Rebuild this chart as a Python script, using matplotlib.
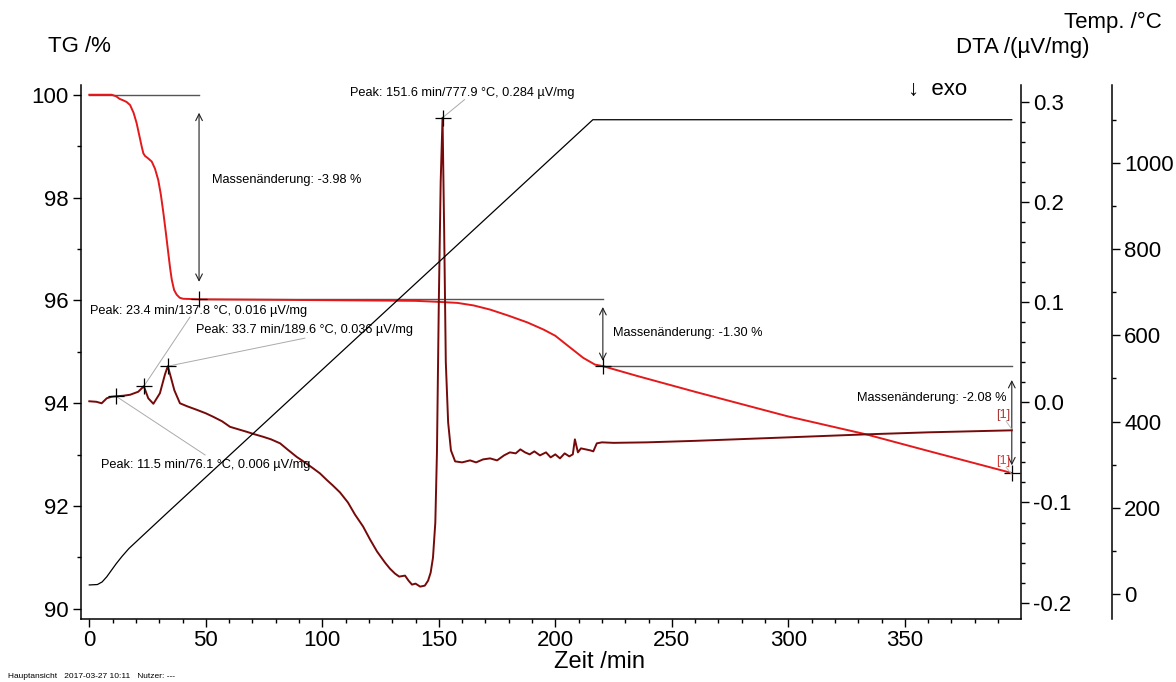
import matplotlib
matplotlib.use('Agg')
import matplotlib.pyplot as plt
from matplotlib.ticker import MultipleLocator

plt.rcParams['font.family'] = ['Liberation Sans', 'DejaVu Sans']

# ---------------- data ----------------
tg_time = [0, 9.6, 11.5, 13, 14.6, 16, 17.5, 19, 20.3, 21.5, 22.5, 23.2, 23.9, 25.3, 26.8, 28.2, 29.6,
           30.7, 31.8, 32.9, 33.9, 34.7, 35.4, 36.4, 37.5, 38.8, 40.3, 47.1,
           80, 110, 140, 150, 158, 165, 172, 180, 188, 195, 200, 205, 212, 217, 220.4,
           235, 260, 300, 333.6, 360, 395.9]
tg_vals = [100.0, 100.0, 99.97, 99.92, 99.89, 99.86, 99.80, 99.65, 99.45, 99.2, 98.99, 98.86, 98.81,
           98.76, 98.70, 98.56, 98.34, 98.06, 97.70, 97.30, 96.92, 96.62, 96.40, 96.20, 96.11, 96.05,
           96.03, 96.02,
           96.01, 96.0, 95.99, 95.97, 95.95, 95.90, 95.82, 95.70, 95.57, 95.43, 95.31, 95.13, 94.88, 94.75,
           94.72,
           94.53, 94.22, 93.74, 93.39, 93.07, 92.64]

dta_time = [0, 3, 5.3, 7.5, 9.5, 11.5, 14.5, 17.5, 21, 23.4, 25.3, 27.5, 30.3, 32.5, 33.7, 35, 36.5, 38.9,
            42, 46.1, 50, 53.2, 57, 60.4, 64, 67.6, 71, 74.7, 78, 81.9, 85, 89, 92.5, 96.1, 99, 101.9,
            104.5, 107.6, 111, 114, 117.5, 120.5, 123.5, 126.9, 129, 131.2, 133, 135.5, 137, 138.5, 140,
            142, 144, 145.4, 146.5, 147.5, 148.5, 149.2, 150.0, 150.8, 151.6, 152.3, 153.0, 154.0, 155.2,
            157, 160, 163.4, 166, 169, 172, 175, 178, 180.5, 183, 185, 187, 189, 191, 193.4, 196, 198,
            200, 202, 204, 206, 207.5, 208.4, 209.7, 211, 213, 215, 216.3, 217.8, 220, 225, 239.2, 260,
            300, 333.6, 360, 395.9]
dta_vals = [0.001, 0.0005, -0.001, 0.004, 0.0055, 0.006, 0.0065, 0.0075, 0.0105, 0.016, 0.004, -0.0015,
            0.009, 0.028, 0.036, 0.025, 0.012, -0.001,
            -0.004, -0.0075, -0.011, -0.0145, -0.019, -0.0245, -0.027, -0.0295, -0.032, -0.0345, -0.037,
            -0.041, -0.047, -0.0545, -0.060, -0.066, -0.071, -0.0775,
            -0.083, -0.090, -0.100, -0.112, -0.124, -0.137, -0.149, -0.160, -0.166, -0.171, -0.174, -0.173,
            -0.178, -0.182, -0.181,
            -0.184, -0.183, -0.178, -0.170, -0.155, -0.12, -0.05, 0.10, 0.22, 0.284, 0.17, 0.04, -0.02, -0.048,
            -0.059, -0.060, -0.058, -0.060, -0.057, -0.056, -0.058, -0.053, -0.050, -0.051, -0.047, -0.050,
            -0.052, -0.049, -0.053, -0.050, -0.055,
            -0.052, -0.056, -0.051, -0.054, -0.052, -0.037, -0.050, -0.046, -0.047, -0.048, -0.049, -0.041,
            -0.040, -0.0405, -0.040, -0.0385,
            -0.035, -0.032, -0.030, -0.028]

temp_time = [0, 3.5, 5.5, 7.5, 9.5, 11.5, 14, 17, 23.4, 33.7, 151.6, 216.1, 395.9]
temp_vals = [21, 22, 28, 40, 55, 70, 87, 105.5, 137.8, 189.6, 777.9, 1100, 1100]

peak_time = [11.5, 23.4, 33.7, 151.6]
peak_dta = [0.006, 0.016, 0.036, 0.284]
peak_labels = ["Peak: 11.5 min/76.1 °C, 0.006 µV/mg",
               "Peak: 23.4 min/137.8 °C, 0.016 µV/mg",
               "Peak: 33.7 min/189.6 °C, 0.036 µV/mg",
               "Peak: 151.6 min/777.9 °C, 0.284 µV/mg"]

step_time = [0, 47.1, 220.4, 395.9]
step_tg = [100.0, 96.02, 94.72, 92.64]
step_labels = ["Massenänderung: -3.98 %", "Massenänderung: -1.30 %", "Massenänderung: -2.08 %"]

# ---------------- figure ----------------
TG_C = '#e3191b'
DTA_C = '#760a0a'
ANN_FS = 9.2

fig = plt.figure(figsize=(11.76, 6.82), dpi=100)
ax = fig.add_axes([0.0686, 0.0924, 0.7993, 0.7830])
ax2 = ax.twinx()
ax3 = ax.twinx()

ax.set_xlim(-3.7, 399.7)
ax.set_ylim(89.80, 100.19)
ax2.set_ylim(-0.2163, 0.3167)
ax3.set_ylim(-57.9, 1180.6)

for a in (ax, ax2, ax3):
    a.spines['top'].set_visible(False)
ax.spines['right'].set_visible(False)
for a in (ax2, ax3):
    a.spines['left'].set_visible(False)
    a.spines['bottom'].set_visible(False)
ax3.spines['right'].set_position(('axes', 1.0968))
for a in (ax, ax2, ax3):
    for s in a.spines.values():
        s.set_linewidth(1.1)

# ticks
ax.xaxis.set_major_locator(MultipleLocator(50))
ax.xaxis.set_minor_locator(MultipleLocator(10))
ax.yaxis.set_major_locator(MultipleLocator(2))
ax.yaxis.set_minor_locator(MultipleLocator(1))
ax2.yaxis.set_major_locator(MultipleLocator(0.1))
ax2.yaxis.set_minor_locator(MultipleLocator(0.02))
ax3.yaxis.set_major_locator(MultipleLocator(200))
ax3.yaxis.set_minor_locator(MultipleLocator(100))
ax.tick_params(axis='both', which='major', labelsize=16, length=6, width=1, direction='out', pad=3)
ax.tick_params(axis='both', which='minor', length=3, width=1, direction='out')
ax.tick_params(axis='x', pad=2)
for a in (ax2, ax3):
    a.tick_params(axis='y', which='major', labelsize=16, length=6, width=1, direction='out', pad=3)
    a.tick_params(axis='y', which='minor', length=3, width=1, direction='out')
ax2.yaxis.set_major_formatter(plt.FuncFormatter(lambda v, p: f"{v:.1f}".replace('-0.0', '0.0')))

# curves
ax.plot(tg_time, tg_vals, color=TG_C, lw=1.4, zorder=3)
ax2.plot(dta_time, dta_vals, color=DTA_C, lw=1.4, zorder=3)
ax3.plot(temp_time, temp_vals, color='black', lw=0.9, zorder=2)

# mass-change evaluation
ax.plot([step_time[0], step_time[1]], [step_tg[0], step_tg[0]], color='#555555', lw=1.0)
ax.plot([step_time[1], step_time[2]], [step_tg[1], step_tg[1]], color='#555555', lw=1.0)
ax.plot([step_time[2], step_time[3]], [step_tg[2], step_tg[2]], color='#555555', lw=1.0)
arrow_kw = dict(arrowstyle='<->', color='#222222', lw=0.8, mutation_scale=12, shrinkA=0, shrinkB=0)
ax.annotate('', xy=(step_time[1], 96.36), xytext=(step_time[1], 99.65), arrowprops=arrow_kw)
ax.annotate('', xy=(step_time[2], 94.82), xytext=(step_time[2], 95.87), arrowprops=arrow_kw)
ax.annotate('', xy=(step_time[3], 92.79), xytext=(step_time[3], 94.45), arrowprops=arrow_kw)
ax.text(52.8, 98.34, step_labels[0], fontsize=ANN_FS, va='center', ha='left')
ax.text(224.8, 95.37, step_labels[1], fontsize=ANN_FS, va='center', ha='left')
ax.text(393.5, 94.10, step_labels[2], fontsize=ANN_FS, va='center', ha='right')
ax.plot(step_time[1:], step_tg[1:], '+', color='black', ms=12, mew=0.9, zorder=4)

# peaks
ax2.plot(peak_time, peak_dta, '+', color='black', ms=12, mew=0.9, zorder=4)
label_pos = [(5.0, -0.0626), (0.3, 0.091), (45.8, 0.072), (112.0, 0.309)]
conn_end = [(49.7, -0.0526), (43.2, 0.085), (92.5, 0.064), (161.0, 0.302)]
for (pt, pv, lab, (lx, ly), (cx, cy)) in zip(peak_time, peak_dta, peak_labels, label_pos, conn_end):
    ax2.plot([pt, cx], [pv, cy], color='#aaaaaa', lw=0.7, zorder=2)
    ax2.text(lx, ly, lab, fontsize=ANN_FS, va='center', ha='left')

# [1] labels
ax2.text(392.0, -0.0125, '[1]', fontsize=ANN_FS, color='#a83a3a', ha='center', va='center')
ax2.plot([393.5, 395.9], [-0.019, -0.027], color='#bbbbbb', lw=0.7)
ax2.text(392.0, -0.0585, '[1]', fontsize=ANN_FS, color='#d04040', ha='center', va='center')
ax2.plot([393.5, 395.9], [-0.065, -0.072], color='#bbbbbb', lw=0.7)

# titles / labels
fig.text(48 / 1176, 1 - 47 / 682, 'TG /%', fontsize=16, ha='left', va='center')
fig.text(1090 / 1176, 1 - 47 / 682, 'DTA /(µV/mg)', fontsize=16, ha='right', va='center')
fig.text(1162 / 1176, 1 - 22 / 682, 'Temp. /°C', fontsize=16, ha='right', va='center')
fig.text(908 / 1176, 1 - 89 / 682, '↓  exo', fontsize=16, ha='left', va='center')
fig.text(600 / 1176, 1 - 662 / 682, 'Zeit /min', fontsize=17, ha='center', va='center')
fig.text(8 / 1176, 1 - 677 / 682, 'Hauptansicht   2017-03-27 10:11   Nutzer: ---', fontsize=6,
         ha='left', va='center')

fig.savefig('out.png', dpi=100)
